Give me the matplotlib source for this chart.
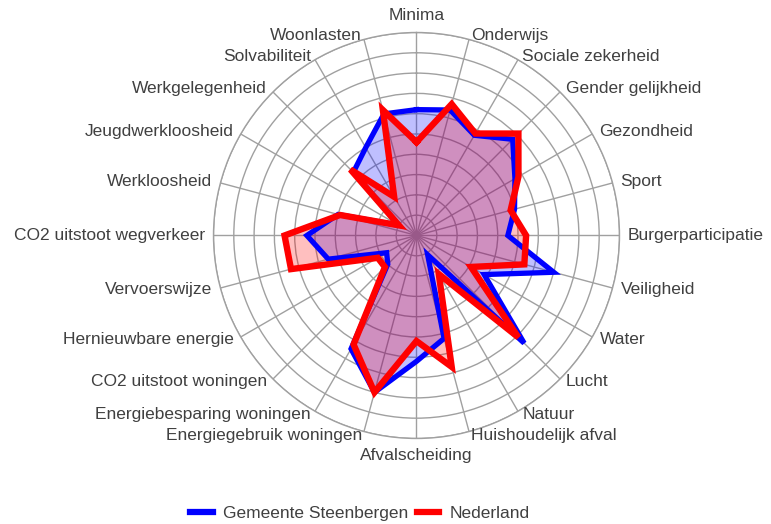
import numpy as np
import matplotlib.pyplot as plt

plt.rcParams['font.family'] = ['Liberation Sans', 'DejaVu Sans']

categories = ["Minima", "Onderwijs", "Sociale zekerheid", "Gender gelijkheid",
              "Gezondheid", "Sport", "Burgerparticipatie", "Veiligheid", "Water",
              "Lucht", "Natuur", "Huishoudelijk afval", "Afvalscheiding",
              "Energiegebruik woningen", "Energiebesparing woningen",
              "CO2 uitstoot woningen", "Hernieuwbare energie", "Vervoerswijze",
              "CO2 uitstoot wegverkeer", "Werkloosheid", "Jeugdwerkloosheid",
              "Werkgelegenheid", "Solvabiliteit", "Woonlasten"]

steenbergen = [6.2, 6.4, 5.7, 6.7, 5.6, 5.0, 4.5, 7.0, 3.85, 7.5, 1.1, 5.25,
               6.2, 8.0, 6.45, 2.0, 1.7, 4.5, 5.4, 4.0, 1.0, 4.4, 5.0, 6.2]
nederland = [4.6, 6.7, 5.8, 7.1, 5.8, 4.8, 5.4, 5.5, 3.1, 7.1, 2.2, 6.7,
             5.2, 8.0, 6.2, 2.2, 2.2, 6.4, 6.5, 3.9, 1.0, 4.6, 2.2, 6.4]

series_names = ["Gemeente Steenbergen", "Nederland"]
colors = ["#0000ff", "#ff0000"]
widths = [3.8, 4.6]

txt_color = "#404040"
grid_color = "#a0a0a0"

n = len(categories)
theta = np.arange(n) * 2 * np.pi / n

fig = plt.figure(figsize=(7.71, 5.24), dpi=100)
ax = fig.add_axes([0.2769, 0.1632, 0.5266, 0.7748], projection='polar')
ax.set_theta_zero_location('N')
ax.set_theta_direction(-1)
ax.set_ylim(0, 10)
ax.set_yticks(np.arange(1, 11))
ax.set_yticklabels([])
ax.set_xticks(theta)
ax.set_xticklabels([])
ax.tick_params(length=0)
ax.grid(True, color=grid_color, linewidth=1.0)
ax.set_axisbelow(True)
ax.spines['polar'].set_color(grid_color)
ax.spines['polar'].set_linewidth(1.0)

handles = []
for vals, name, c, lw in zip([steenbergen, nederland], series_names, colors, widths):
    t = np.append(theta, theta[0])
    v = np.append(vals, vals[0])
    ax.fill(t, v, color=c, alpha=0.25, linewidth=0, zorder=2)
    h, = ax.plot(t, v, color=c, linewidth=lw, solid_joinstyle='miter', zorder=3, label=name)
    handles.append(h)

# category labels around the outside
for ang, lab in zip(theta, categories):
    s, c = np.sin(ang), np.cos(ang)
    if abs(s) < 0.01:
        ha = 'center'
        va = 'bottom' if c > 0 else 'top'
        dx, dy = 0, 7 * np.sign(c)
    else:
        ha = 'left' if s > 0 else 'right'
        va = 'center'
        dx, dy = 6 * s, 3 * c
    ax.annotate(lab, xy=(ang, 10), xytext=(dx, dy), textcoords='offset points',
                ha=ha, va=va, fontsize=12.5, color=txt_color, annotation_clip=False)

leg = fig.legend(handles=handles, loc='center', bbox_to_anchor=(360 / 771, 1 - 513 / 524),
                 ncol=2, frameon=False, fontsize=12.5, handlelength=1.3,
                 handletextpad=0.6, columnspacing=0.5)
for t in leg.get_texts():
    t.set_color(txt_color)
for l in leg.get_lines():
    l.set_linewidth(4.5)

fig.savefig("out.png", dpi=100)
